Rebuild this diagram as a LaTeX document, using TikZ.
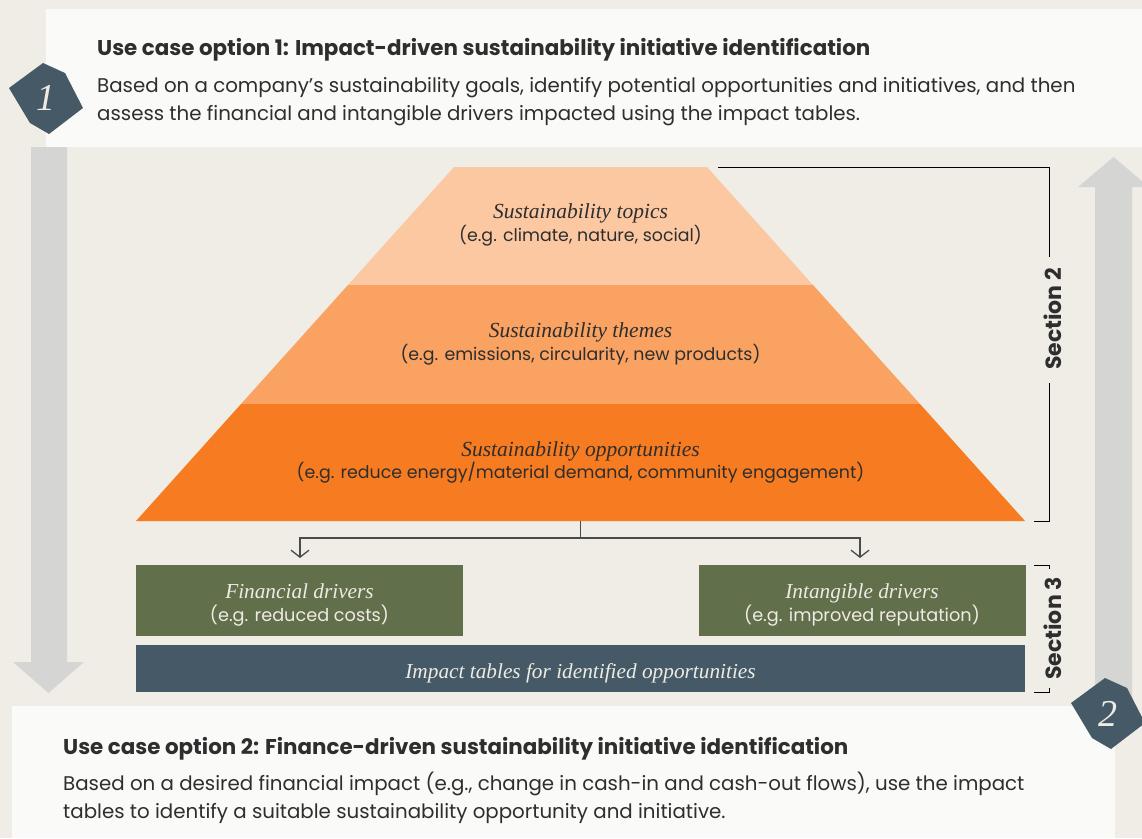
\documentclass[tikz,border=0pt]{standalone}
\usepackage{fontspec}
\setmainfont{Poppins}
\newfontfamily\serifface{Liberation Serif}
\usetikzlibrary{arrows.meta}
\definecolor{bg}{HTML}{F0EDE7}
\definecolor{paper}{HTML}{FAFAF8}
\definecolor{arrowgray}{HTML}{D5D5D3}
\definecolor{slate}{HTML}{455A66}
\definecolor{olive}{HTML}{616F4B}
\definecolor{peach}{HTML}{FBC8A2}
\definecolor{apricot}{HTML}{F9A262}
\definecolor{orangeL}{HTML}{F77B20}
\definecolor{ink}{HTML}{2E2E2E}
\definecolor{lighttext}{HTML}{EEEBE4}
\definecolor{lineink}{HTML}{4A4A4A}
\begin{document}
\begin{tikzpicture}[x=1pt,y=-1pt,
  titletext/.style={anchor=base west,inner sep=0pt,text=ink,font=\fontsize{21.4}{24}\selectfont\bfseries},
  bodytext/.style={anchor=base west,inner sep=0pt,text=ink,font=\fontsize{19.8}{24}\selectfont},
  layerhead/.style={anchor=base,inner sep=0pt,text=ink,font=\serifface\itshape\fontsize{21.5}{24}\selectfont},
  layersub/.style={anchor=base,inner sep=0pt,text=ink,font=\fontsize{17.4}{20}\selectfont},
  boxhead/.style={anchor=base,inner sep=0pt,text=lighttext,font=\serifface\itshape\fontsize{21.3}{24}\selectfont},
  boxsub/.style={anchor=base,inner sep=0pt,text=lighttext,font=\fontsize{17.7}{20}\selectfont},
  drvbox/.style={fill=olive,draw=none,minimum width=327pt,minimum height=71pt,inner sep=0pt},
  seclabel/.style={inner sep=0pt,text=ink,font=\fontsize{22}{24}\selectfont\bfseries,rotate=90},
  bracket/.style={draw=black,line width=1pt},
  conn/.style={draw=lineink,line width=1.3pt},
  arr/.style={conn,-{Straight Barb[length=7pt,width=18pt,line width=1.3pt]}},
  badge/.style={fill=slate,draw=none},
  badgenum/.style={text=lighttext,font=\serifface\itshape\fontsize{38}{40}\selectfont,inner sep=0pt}
]
\useasboundingbox (0,0) rectangle (1142,838);
\fill[bg] (0,0) rectangle (1142,838);
% white boxes
\fill[paper] (46,9) rectangle (1142,147);
% big gray arrows
\fill[arrowgray] (31,147) -- (67,147) -- (67,662) -- (84,662) -- (48.5,693) -- (13,662) -- (31,662) -- cycle;
\fill[arrowgray] (1095,710) -- (1095,187) -- (1078,187) -- (1113.5,157) -- (1149,187) -- (1132,187) -- (1132,710) -- cycle;
\fill[paper] (12,706) rectangle (1115,838);

% texts top
\node[titletext] (t1) at (97,55) {Use case option 1: Impact-driven sustainability initiative identification};
\node[bodytext] (b1a) at (97,92) {Based on a company’s sustainability goals, identify potential opportunities and initiatives, and then};
\node[bodytext] (b1b) at (97,120) {assess the financial and intangible drivers impacted using the impact tables.};
% texts bottom
\node[titletext] (t2) at (63,754) {Use case option 2: Finance-driven sustainability initiative identification};
\node[bodytext] (b2a) at (63,790) {Based on a desired financial impact (e.g., change in cash-in and cash-out flows), use the impact};
\node[bodytext] (b2b) at (63,818) {tables to identify a suitable sustainability opportunity and initiative.};

% pyramid
\fill[peach] (454,167) -- (707,167) -- (813,285) -- (348,285) -- cycle;
\fill[apricot] (348,285) -- (813,285) -- (920,404) -- (241,404) -- cycle;
\fill[orangeL] (241,404) -- (920,404) -- (1025,521) -- (136,521) -- cycle;
\node[layerhead] (l1h) at (580.5,218) {Sustainability topics};
\node[layersub] (l1s) at (580.5,241) {(e.g. climate, nature, social)};
\node[layerhead] (l2h) at (580.5,337) {Sustainability themes};
\node[layersub] (l2s) at (580.5,360) {(e.g. emissions, circularity, new products)};
\node[layerhead] (l3h) at (580.5,456) {Sustainability opportunities};
\node[layersub] (l3s) at (580.5,478) {(e.g. reduce energy/material demand, community engagement)};

% driver boxes
\node[drvbox] (fin) at (299.5,600.5) {};
\node[drvbox] (intg) at (862,600.5) {};
\node[fill=slate,minimum width=889pt,minimum height=47pt,inner sep=0pt] (imp) at (580.5,668.5) {};
\node[boxhead] (finh) at (299.5,598) {Financial drivers};
\node[boxsub] (fins) at (299.5,621) {(e.g. reduced costs)};
\node[boxhead] (intgh) at (862,598) {Intangible drivers};
\node[boxsub] (intgs) at (862,621) {(e.g. improved reputation)};
\node[boxhead] (imph) at (580.5,678) {Impact tables for identified opportunities};

% connectors
\coordinate (pyb) at (580.5,521);
\coordinate (split) at (580.5,538);
\coordinate (finarr) at (300,558);
\coordinate (intarr) at (860,558);
\draw[conn] (pyb) -- (split);
\draw[arr] (split) -| (finarr);
\draw[arr] (split) -| (intarr);

% section brackets
\node[seclabel] (sec2) at (1053,319) {Section 2};
\node[seclabel] (sec3) at (1053,628.5) {Section 3};
\draw[bracket] (718,167) -- (1049,167) -- (1049,257);
\draw[bracket] (1049,383) -- (1049,521) -- (1034,521);
\draw[bracket] (1034,565) -- (1049,565) -- (1049,569);
\draw[bracket] (1049,688) -- (1049,692) -- (1034,692);

% badges
\fill[badge] (9,88) -- (43,63) -- (65,73) -- (83,108) -- (49,134) -- (30,123) -- cycle;
\node[badgenum] (n1) at (46,98) {1};
\fill[badge] (1071,703) -- (1105,678) -- (1127,688) -- (1145,723) -- (1111,749) -- (1092,738) -- cycle;
\node[badgenum] (n2) at (1108,714) {2};
\end{tikzpicture}
\end{document}
